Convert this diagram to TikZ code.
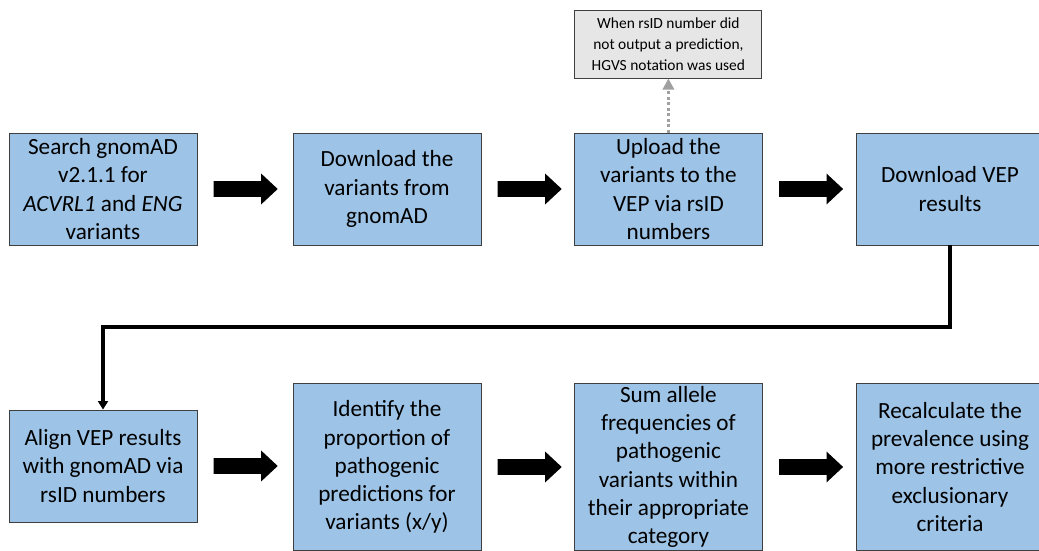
\documentclass[tikz,border=0pt]{standalone}
\usepackage{fontspec}
\setmainfont{Carlito}
\usetikzlibrary{shapes.arrows,arrows.meta,calc}
\definecolor{FlowBlue}{HTML}{9DC3E6}
\definecolor{FlowEdge}{HTML}{3F3F3F}
\definecolor{NoteGrey}{HTML}{E7E6E6}
\definecolor{NoteArrow}{HTML}{A0A0A0}

\tikzset{
  stepbox/.style={draw=FlowEdge,fill=FlowBlue,line width=0.6pt,minimum width=4.7cm,minimum height=2.8cm,
    align=center,inner sep=2pt,font=\fontsize{16.5}{20}\selectfont},
  tallbox/.style={stepbox,minimum height=4.175cm},
  notebox/.style={draw=FlowEdge,fill=NoteGrey,line width=0.6pt,minimum width=4.675cm,minimum height=1.7cm,
    align=center,font=\fontsize{11}{15}\selectfont},
  blockarrow/.style={single arrow,fill=black,draw=none,anchor=tail,inner xsep=0pt,inner ysep=0.19cm,
    minimum height=1.6cm,single arrow head extend=0.19cm,single arrow tip angle=86}
}

\begin{document}
\begin{tikzpicture}[x=1cm,y=1cm]
\path[use as bounding box] (0,0) rectangle (25.975,13.775);
\node[stepbox] (search) at (2.575,9.05) {Search gnomAD\\v2.1.1 for\\\textit{ACVRL1} and \textit{ENG}\\variants};
\node[stepbox] (download) at (9.675,9.05) {Download the\\variants from\\gnomAD};
\node[stepbox] (upload) at (16.71,9.05) {Upload the\\variants to the\\VEP via rsID\\numbers};
\node[stepbox] (results) at (23.75,9.05) {Download VEP\\results};
\node[notebox] (hgvs) at (16.71,12.675) {When rsID number did\\not output a prediction,\\HGVS notation was used};
\node[stepbox] (align) at (2.575,2.125) {Align VEP results\\with gnomAD via\\rsID numbers};
\node[tallbox] (identify) at (9.675,2.1) {Identify the\\proportion of\\pathogenic\\predictions for\\variants (x/y)};
\node[tallbox] (sum) at (16.71,2.1) {Sum allele\\frequencies of\\pathogenic\\variants within\\their appropriate\\category};
\node[tallbox] (recalc) at (23.75,2.1) {Recalculate the\\prevalence using\\more restrictive\\exclusionary\\criteria};
\node[blockarrow] (a1) at ([xshift=0.4cm]search.east) {};
\node[blockarrow] (a2) at ([xshift=0.4cm]download.east) {};
\node[blockarrow] (a3) at ([xshift=0.4cm]upload.east) {};
\node[blockarrow] (a4) at ([xshift=0.4cm]align.east) {};
\node[blockarrow] (a5) at ([xshift=0.4cm]identify.east) {};
\node[blockarrow] (a6) at ([xshift=0.4cm]sum.east) {};
\draw[NoteArrow,line width=2.2pt,dash pattern=on 2.1pt off 1.8pt,-{Triangle[length=8pt,width=8pt]}] (upload.north) -- (hgvs.south);
\draw[line width=2.2pt,-{Triangle[length=6pt,width=7pt]}] (results.south) -- (results.south |- 0,5.6) -| (align.north);
\end{tikzpicture}
\end{document}
